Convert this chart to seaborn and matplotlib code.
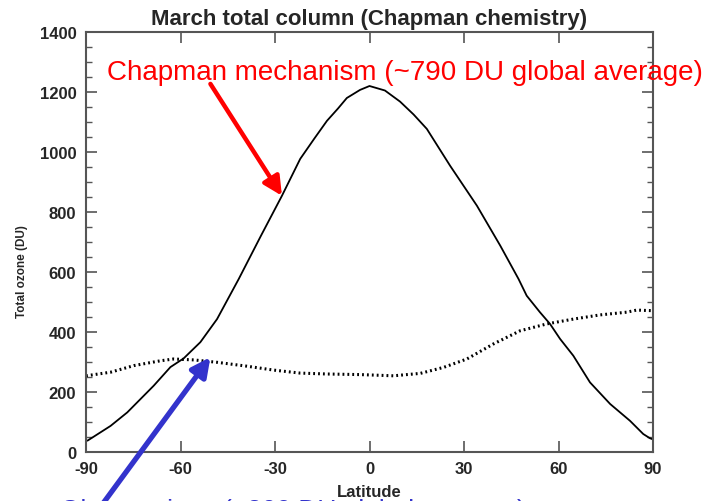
import numpy as np
import pandas as pd
import matplotlib
matplotlib.use("Agg")
import matplotlib.pyplot as plt
from matplotlib.ticker import MultipleLocator
import seaborn as sns

# Chapman mechanism total column (solid)
chap_lat = [-90, -89.5, -82.2, -76.9, -68.5, -63.2, -59.0, -53.7, -48.4, -41.5, -34.5,
            -27.8, -22.0, -17.5, -13.5, -10.0, -7.2, -3.0, 0.0, 4.9, 9.7, 14.0, 18.2,
            25.6, 34.1, 41.5, 47.3, 49.9, 54.1, 57.3, 60.5, 64.7, 70.0, 76.4, 82.7,
            86.9, 89.0, 90]
chap_val = [38, 38, 87, 132, 221, 283, 312, 366, 443, 577, 720,
            854, 977, 1045, 1104, 1145, 1180, 1207, 1220, 1205, 1168, 1125, 1077,
            954, 821, 688, 577, 521, 466, 427, 377, 321, 232, 160, 104,
            60, 46, 42]

# Observed total column (dotted)
obs_lat = [-90, -82.2, -74.8, -66.4, -62.2, -55.8, -48.4, -38.9, -30.4, -22.0, -13.5,
           -2.9, 7.6, 16.1, 23.5, 30.9, 39.3, 47.8, 56.3, 64.7, 73.2, 81.6, 84.8, 90]
obs_val = [254, 266, 288, 304, 310, 307, 299, 286, 273, 263, 260,
           258, 254, 262, 282, 310, 360, 404, 427, 443, 457, 466, 473, 471]

x_ticks = [-90, -60, -30, 0, 30, 60, 90]
y_ticks = [0, 200, 400, 600, 800, 1000, 1200, 1400]

title = "March total column (Chapman chemistry)"
red_label = "Chapman mechanism (~790 DU global average)"
blue_label = "Observations (~300 DU global average)"

sns.set_style("ticks")
plt.rcParams['font.family'] = ['Liberation Sans', 'DejaVu Sans']
plt.rcParams['axes.unicode_minus'] = False

df_c = pd.DataFrame({"lat": chap_lat, "val": chap_val})
df_o = pd.DataFrame({"lat": obs_lat, "val": obs_val})

fig = plt.figure(figsize=(7.04, 5.02), dpi=100)
ax = fig.add_axes([86/704, 1-453/502, (653-86)/704, (453-33)/502])

sns.lineplot(data=df_c, x="lat", y="val", ax=ax, color="black", lw=1.3, sort=False)
sns.lineplot(data=df_o, x="lat", y="val", ax=ax, color="black", lw=2.2, sort=False,
             linestyle=(0, (0.6, 1.0)))

ax.set_xlim(-90, 90)
ax.set_ylim(0, 1400)
ax.set_xticks(x_ticks)
ax.set_yticks(y_ticks)
ax.yaxis.set_minor_locator(MultipleLocator(50))
ax.tick_params(which="both", direction="in", top=True, right=True, color="#555555")
ax.tick_params(which="major", length=8, width=1.2, labelsize=12)
ax.tick_params(axis="x", which="major", pad=6.5)
ax.tick_params(axis="y", which="major", pad=7)
ax.tick_params(which="minor", length=4, width=1.0)
for lab in ax.get_xticklabels() + ax.get_yticklabels():
    lab.set_fontweight("bold")
for s in ax.spines.values():
    s.set_color("#555555")
    s.set_linewidth(1.5)

ax.set_title(title, fontsize=16, fontweight="bold", pad=6)
ax.set_xlabel("Latitude", fontsize=12, fontweight="bold", labelpad=6)
ax.set_ylabel("Total ozone (DU)", fontsize=8.5, fontweight="bold")
ax.yaxis.set_label_coords(-0.103, 0.431)

# Red annotation
ax.annotate("", xy=(-27.8, 854), xytext=(-50.5, 1227),
            arrowprops=dict(arrowstyle="-|>", lw=3.2, color="#ff0000",
                            mutation_scale=28, shrinkA=0, shrinkB=0))
fig.text(107/704, 1-80/502, red_label, color="#ff0000", fontsize=20,
         ha="left", va="baseline")

# Blue annotation
ax.annotate("", xy=(-50.5, 316), xytext=(-84.5, -170),
            arrowprops=dict(arrowstyle="-|>", lw=3.8, color="#3333cc",
                            mutation_scale=28, shrinkA=0, shrinkB=0),
            annotation_clip=False)
fig.text(60/704, 1-499/502, blue_label, color="#3333cc", fontsize=19,
         ha="left", va="top")

fig.savefig("out.png", dpi=100)
